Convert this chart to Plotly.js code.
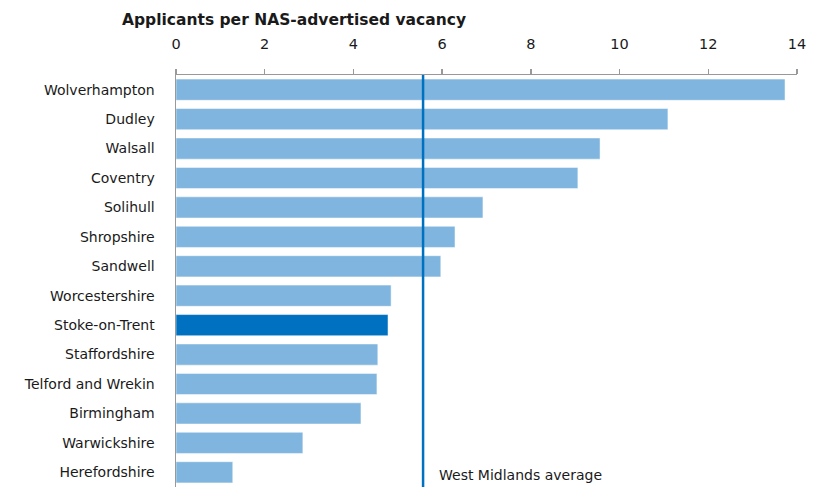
<!DOCTYPE html>
<html><head><meta charset="utf-8">
<script src="https://cdn.plot.ly/plotly-3.0.1.min.js"></script>
<style>html,body{margin:0;padding:0;background:#fff}#chart{width:822px;height:487px}</style>
</head><body><div id="chart"></div>
<script>
const areas = ["Wolverhampton","Dudley","Walsall","Coventry","Solihull","Shropshire","Sandwell","Worcestershire","Stoke-on-Trent","Staffordshire","Telford and Wrekin","Birmingham","Warwickshire","Herefordshire"];
const applicantsPerVacancy = [13.73,11.09,9.56,9.06,6.92,6.29,5.97,4.85,4.78,4.55,4.53,4.17,2.86,1.28];
const highlightArea = "Stoke-on-Trent";
const regionAverage = 5.57;
const averageLabel = "West Midlands average";
const axisTitle = "Applicants per NAS-advertised vacancy";
const xTicks = [0,2,4,6,8,10,12,14];

const colors = areas.map(a => a === highlightArea ? "#0070C0" : "#7FB5DE");
const font = "DejaVu Sans, Verdana, sans-serif";

Plotly.newPlot("chart", [{
  type: "bar", orientation: "h",
  y: areas, x: applicantsPerVacancy,
  marker: {color: colors, line: {color: "rgba(255,255,255,0.5)", width: 1}},
  width: 0.72, hoverinfo: "skip"
}], {
  width: 822, height: 487,
  margin: {l: 176, r: 25, t: 75, b: 0},
  paper_bgcolor: "#fff", plot_bgcolor: "#fff",
  showlegend: false,
  font: {family: font, size: 14, color: "#1a1a1a"},
  xaxis: {
    side: "top", range: [0, 14], tickvals: xTicks, ticktext: xTicks.map(String),
    showgrid: false, zeroline: false, showline: true, linecolor: "#999", linewidth: 1.5,
    ticks: "outside", ticklen: 5, tickcolor: "#999", tickwidth: 1.5, ticklabelstandoff: 14,
    tickfont: {size: 14.5, family: font, color: "#1a1a1a"}
  },
  yaxis: {
    categoryorder: "array", categoryarray: areas, range: [13.5, -0.5], autorange: false,
    showgrid: false, zeroline: false, showline: true, linecolor: "#999", linewidth: 1.5,
    ticks: "", ticklabelstandoff: 17, tickfont: {size: 14, family: font, color: "#1a1a1a"}
  },
  shapes: [{type: "line", xref: "x", yref: "paper", x0: regionAverage, x1: regionAverage, y0: 0, y1: 1,
    line: {color: "#0070C0", width: 2.5}}],
  annotations: [
    {xref: "x", yref: "paper", x: regionAverage, y: 0.005, xanchor: "left", yanchor: "bottom",
      xshift: 14, text: averageLabel, showarrow: false, font: {size: 14, family: font, color: "#1a1a1a"}},
    {xref: "paper", yref: "paper", x: -56/621, y: 1, yshift: 55, xanchor: "left", yanchor: "middle",
      text: "<b>" + axisTitle + "</b>", showarrow: false, font: {size: 15.5, family: font, color: "#1a1a1a"}}
  ]
}, {staticPlot: true});
</script></body></html>
